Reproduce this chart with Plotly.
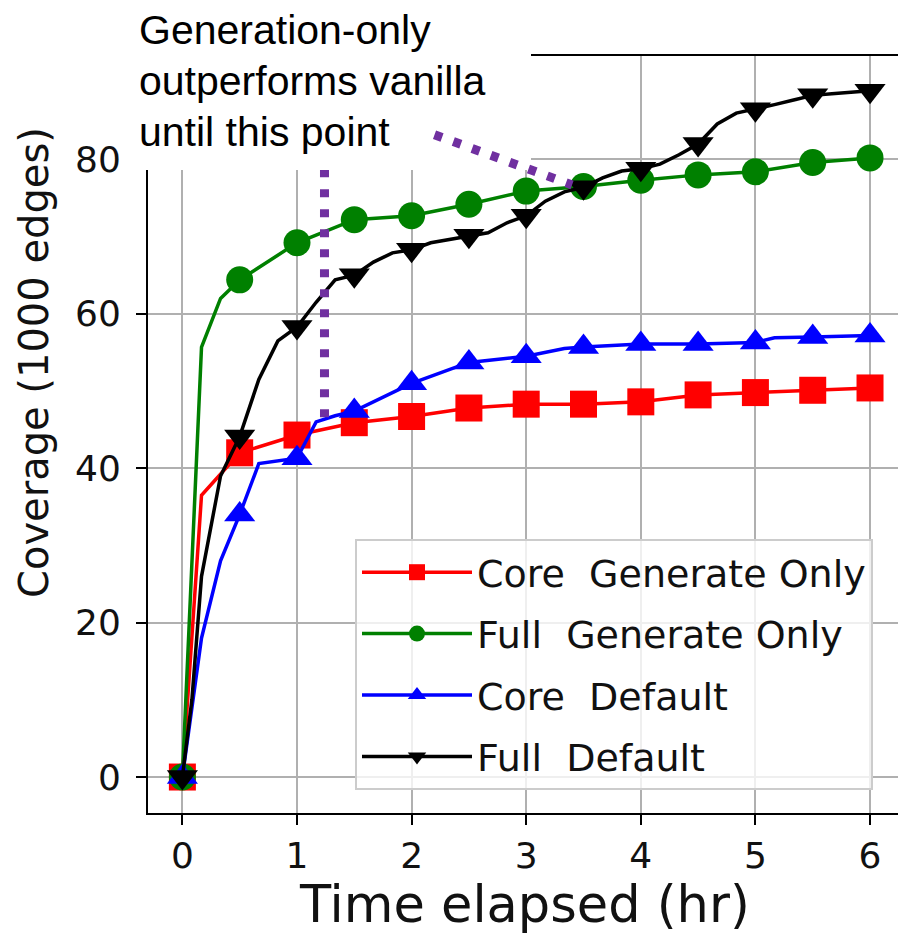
import plotly.graph_objects as go

# ---------------- data ----------------
series_names = ["Core  Generate Only", "Full  Generate Only", "Core  Default", "Full  Default"]
series_colors = ["#FF0000", "#008000", "#0000FF", "#000000"]
series_symbols = ["square", "circle", "triangle-up", "triangle-down"]

core_gen_hr = [0, 0.167, 0.5, 1.0, 1.5, 2.0, 2.5, 3.0, 3.5, 4.0, 4.5, 5.0, 5.5, 6.0]
core_gen_cov = [0, 36.5, 42.0, 44.3, 45.9, 46.7, 47.8, 48.3, 48.3, 48.6, 49.5, 49.8, 50.1, 50.4]

full_gen_hr = [0, 0.167, 0.333, 0.5, 1.0, 1.5, 2.0, 2.5, 3.0, 3.5, 4.0, 4.5, 5.0, 5.5, 6.0]
full_gen_cov = [0, 55.7, 62.0, 64.4, 69.2, 72.2, 72.7, 74.2, 75.9, 76.5, 77.3, 78.0, 78.4, 79.6, 80.2]

core_def_hr = [0, 0.167, 0.333, 0.5, 0.667, 1.0, 1.167, 1.333, 1.5, 2.0, 2.5, 3.0, 3.333, 3.5,
               4.0, 4.5, 5.0, 5.167, 5.5, 6.0]
core_def_cov = [0, 18.0, 28.0, 34.0, 40.6, 41.3, 46.0, 46.8, 47.4, 51.0, 53.7, 54.5, 55.5, 55.7,
                56.1, 56.1, 56.3, 56.9, 57.0, 57.2]

full_def_hr = [0, 0.083, 0.167, 0.333, 0.5, 0.667, 0.833, 1.0, 1.167, 1.333, 1.5, 1.667, 1.833,
               2.0, 2.167, 2.333, 2.5, 2.667, 2.833, 3.0, 3.167, 3.333, 3.5, 3.667, 3.833,
               4.0, 4.167, 4.333, 4.5, 4.667, 4.833, 5.0, 5.167, 5.333, 5.5, 5.667, 5.833, 6.0]
full_def_cov = [0, 10.0, 26.0, 39.0, 44.1, 51.5, 56.5, 58.3, 61.5, 64.4, 65.0, 66.7, 67.9,
                68.3, 69.2, 69.6, 70.1, 70.5, 71.8, 72.7, 74.6, 75.8, 76.4, 77.6, 78.5,
                78.8, 79.4, 80.6, 82.0, 84.6, 86.0, 86.5, 87.1, 87.7, 88.3, 88.5, 88.7, 88.9]

series_x = [core_gen_hr, full_gen_hr, core_def_hr, full_def_hr]
series_y = [core_gen_cov, full_gen_cov, core_def_cov, full_def_cov]

x_ticks = [0, 1, 2, 3, 4, 5, 6]
y_ticks = [0, 20, 40, 60, 80]
x_title = "Time elapsed (hr)"
y_title = "Coverage (1000 edges)"

annotation_lines = ["Generation-only", "outperforms vanilla", "until this point"]
# dotted guide lines (data coordinates)
vline_x = [1.24, 1.24]
vline_y = [46.6, 80.0]
diag_x = [2.20, 3.40]
diag_y = [83.2, 76.7]

# ---------------- figure ----------------
W, H = 898, 933
ML, MR, MT, MB = 148, 0, 56, 120
PW, PH = W - ML - MR, H - MT - MB

MARK = 27
fig = go.Figure()
for name, col, sym, xs, ys in zip(series_names, series_colors, series_symbols, series_x, series_y):
    sizes = [MARK if abs(h * 2 - round(h * 2)) < 1e-6 else 0 for h in xs]
    fig.add_trace(go.Scatter(
        x=xs, y=ys, mode="lines+markers", name=name, showlegend=False,
        line=dict(color=col, width=3.5),
        marker=dict(symbol=sym, size=sizes, color=col, opacity=1, line=dict(width=0)),
    ))
for name, col, sym in zip(series_names, series_colors, series_symbols):
    fig.add_trace(go.Scatter(
        x=[None], y=[None], mode="lines+markers", name=name, legendgroup=name,
        line=dict(color=col, width=3.5),
        marker=dict(symbol=sym, size=16, color=col, opacity=1),
    ))

px2x = lambda p: (p - ML) / PW
px2y = lambda p: (H - MB - p) / PH

shapes = [
    dict(type="line", xref="x", yref="y", x0=vline_x[0], x1=vline_x[1], y0=vline_y[0], y1=vline_y[1],
         line=dict(color="#7030A0", width=9, dash="8px,12px"), layer="above"),
    dict(type="rect", xref="paper", yref="paper", x0=px2x(128), x1=px2x(531), y0=px2y(170), y1=px2y(-5),
         fillcolor="white", line=dict(width=0), layer="above"),
    dict(type="line", xref="x", yref="y", x0=diag_x[0], x1=diag_x[1], y0=diag_y[0], y1=diag_y[1],
         line=dict(color="#7030A0", width=9, dash="8px,12px"), layer="above"),
]

annotations = []
for i, txt in enumerate(annotation_lines):
    annotations.append(dict(
        text=txt, xref="paper", yref="paper", x=px2x(137), y=px2y(30 + 51 * i),
        xanchor="left", yanchor="middle", showarrow=False,
        font=dict(family="Liberation Sans, Arial", size=41, color="black"),
    ))
annotations.append(dict(
    text=x_title, xref="paper", yref="paper", x=px2x(524), y=px2y(904),
    xanchor="center", yanchor="middle", showarrow=False,
    font=dict(family="DejaVu Sans", size=51, color="#111111"),
))
annotations.append(dict(
    text=y_title, xref="paper", yref="paper", x=px2x(34), y=px2y(363), textangle=-90,
    xanchor="center", yanchor="middle", showarrow=False,
    font=dict(family="DejaVu Sans", size=40, color="#111111"),
))

fig.update_layout(
    width=W, height=H, margin=dict(l=ML, r=MR, t=MT, b=MB, pad=0),
    paper_bgcolor="white", plot_bgcolor="white",
    font=dict(family="DejaVu Sans", color="#111111"),
    shapes=shapes, annotations=annotations,
    legend=dict(
        x=px2x(355), y=px2y(539), xanchor="left", yanchor="top",
        bgcolor="rgba(255,255,255,0.8)", bordercolor="#cccccc", borderwidth=2,
        font=dict(family="DejaVu Sans", size=38, color="#111111"),
        itemwidth=110, tracegroupgap=9, traceorder="grouped",
    ),
)
fig.update_xaxes(
    range=[-0.3, -0.3 + 6.6 * 750 / 756.4], tickvals=x_ticks, ticktext=[str(v) for v in x_ticks],
    showgrid=True, gridcolor="#b0b0b0", gridwidth=2, zeroline=False,
    showline=True, mirror=True, linecolor="black", linewidth=2,
    ticks="outside", ticklen=10, tickwidth=2, tickcolor="black",
    tickfont=dict(family="DejaVu Sans", size=36, color="#111111"),
)
fig.update_yaxes(
    range=[-4.66, 93.4], tickvals=y_ticks, ticktext=[str(v) for v in y_ticks],
    showgrid=True, gridcolor="#b0b0b0", gridwidth=2, zeroline=False,
    showline=True, mirror=False, linecolor="black", linewidth=2,
    ticks="outside", ticklen=10, tickwidth=2, tickcolor="black",
    tickfont=dict(family="DejaVu Sans", size=36, color="#111111"),
    ticklabelstandoff=8,
)

fig.write_html("out.html")
